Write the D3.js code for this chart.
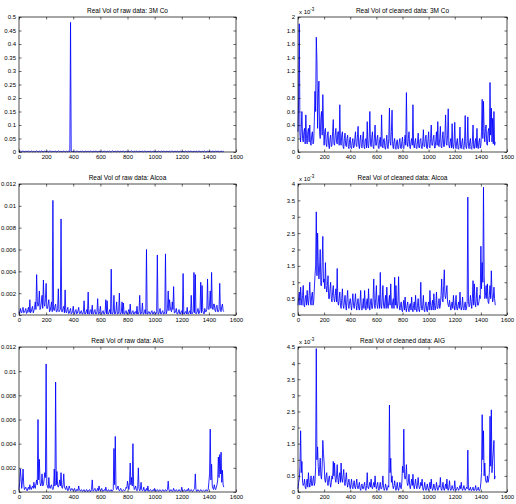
<!DOCTYPE html>
<html>
<head>
<meta charset="utf-8">
<script src="https://cdn.jsdelivr.net/npm/d3@7"></script>
<style>
html,body{margin:0;padding:0;background:#fff;}
svg{display:block;}
text{font-family:"Liberation Sans",Arial,Helvetica,sans-serif;fill:#000;}
</style>
</head>
<body>
<svg id="chart" width="516" height="504"></svg>
<script>
// ---- data: main samples at x = 0,10,...,1510 and in-between samples at x = 5,15,...,1505 ----
const xStep = 10;
const xTicks = [0,200,400,600,800,1000,1200,1400,1600];

const titles = [
  "Real Vol of raw data: 3M Co", "Real Vol of cleaned data: 3M Co",
  "Real Vol of raw data: Alcoa", "Real Vol of cleaned data: Alcoa",
  "Real Vol of raw data: AIG", "Real Vol of cleaned data: AIG"
];

// raw 3M Co (actual units)
const raw3M = [
 0.001,0.004,0.001,0.003,0.001,0.004,0.001,0.003,0.001,0.004,
 0.001,0.003,0.001,0.004,0.002,0.003,0.001,0.004,0.001,0.003,
 0.001,0.003,0.001,0.004,0.001,0.003,0.001,0.003,0.001,0.004,
 0.001,0.003,0.001,0.003,0.001,0.003,0.001,0.002,0.48,0.002,
 0.001,0.003,0.001,0.003,0.001,0.003,0.001,0.003,0.001,0.003,
 0.001,0.003,0.001,0.003,0.001,0.003,0.001,0.003,0.001,0.003,
 0.001,0.003,0.001,0.003,0.001,0.003,0.001,0.003,0.001,0.004,
 0.001,0.003,0.001,0.003,0.001,0.003,0.001,0.003,0.001,0.003,
 0.001,0.003,0.001,0.004,0.001,0.003,0.001,0.003,0.001,0.003,
 0.001,0.003,0.001,0.003,0.001,0.003,0.001,0.003,0.001,0.003,
 0.001,0.003,0.001,0.003,0.001,0.003,0.001,0.003,0.001,0.003,
 0.001,0.003,0.001,0.003,0.001,0.004,0.001,0.003,0.001,0.003,
 0.001,0.003,0.001,0.003,0.001,0.003,0.001,0.003,0.001,0.003,
 0.001,0.003,0.001,0.003,0.001,0.003,0.001,0.003,0.001,0.003,
 0.001,0.004,0.001,0.003,0.001,0.004,0.001,0.003,0.001,0.004,
 0.001,0.003
];
const raw3MMid = [
 0.002,0.001,0.003,0.002,0.001,0.002,0.003,0.001,0.002,0.002,
 0.002,0.001,0.003,0.002,0.001,0.002,0.003,0.001,0.002,0.002,
 0.002,0.001,0.003,0.002,0.001,0.002,0.003,0.001,0.002,0.002,
 0.002,0.001,0.003,0.002,0.001,0.002,0.003,0.002,0.002,0.002,
 0.002,0.001,0.003,0.002,0.001,0.002,0.003,0.001,0.002,0.002,
 0.002,0.001,0.003,0.002,0.001,0.002,0.003,0.001,0.002,0.002,
 0.002,0.001,0.003,0.002,0.001,0.002,0.003,0.001,0.002,0.002,
 0.002,0.001,0.003,0.002,0.001,0.002,0.003,0.001,0.002,0.002,
 0.002,0.001,0.003,0.002,0.001,0.002,0.003,0.001,0.002,0.002,
 0.002,0.001,0.003,0.002,0.001,0.002,0.003,0.001,0.002,0.002,
 0.002,0.001,0.003,0.002,0.001,0.002,0.003,0.001,0.002,0.002,
 0.002,0.001,0.003,0.002,0.001,0.002,0.003,0.001,0.002,0.002,
 0.002,0.001,0.003,0.002,0.001,0.002,0.003,0.001,0.002,0.002,
 0.002,0.001,0.003,0.002,0.001,0.002,0.003,0.001,0.002,0.002,
 0.002,0.001,0.003,0.002,0.001,0.002,0.003,0.001,0.002,0.002,
 0.002
];

// cleaned 3M Co (x 1e-3)
const clean3M = [
 0.3,1.9,0.15,0.6,0.15,0.35,0.55,0.12,0.35,0.4,
 0.1,0.3,0.15,0.9,1.7,0.35,1.05,0.2,0.6,0.85,
 0.1,0.35,0.08,0.3,0.05,0.25,0.1,0.48,0.1,0.35,
 0.12,0.3,0.7,0.1,0.3,0.05,0.28,0.08,0.25,0.05,
 0.22,0.05,0.2,0.08,0.3,0.08,0.38,0.05,0.25,0.06,
 0.3,0.05,0.2,0.45,0.06,0.6,0.08,0.3,0.05,0.4,
 0.1,0.25,0.05,0.22,0.55,0.06,0.2,0.04,0.25,0.05,
 0.65,0.1,0.62,0.05,0.2,0.04,0.18,0.05,0.2,0.05,
 0.22,0.05,0.25,0.88,0.08,0.3,0.05,0.2,0.7,0.06,
 0.2,0.05,0.28,0.06,0.2,0.05,0.33,0.08,0.25,0.05,
 0.3,0.06,0.4,0.1,0.25,0.06,0.3,0.45,0.08,0.38,
 0.06,0.3,0.08,0.55,0.1,0.64,0.06,0.2,0.42,0.05,
 0.44,0.05,0.2,0.04,0.37,0.05,0.2,0.04,0.54,0.05,
 0.52,0.05,0.2,0.04,0.4,0.05,0.2,0.35,0.05,0.2,
 0.1,0.78,0.75,0.15,0.4,0.1,0.35,1.03,0.65,0.5,
 0.6,0.15
];
const clean3MMid = [
 0.8,0.25,0.35,0.2,0.3,0.12,0.2,0.3,0.15,0.12,
 0.25,0.12,0.45,0.6,1.35,0.8,0.3,0.5,0.25,0.4,
 0.3,0.12,0.25,0.1,0.2,0.08,0.3,0.12,0.25,0.15,
 0.3,0.1,0.15,0.25,0.08,0.2,0.1,0.2,0.08,0.18,
 0.06,0.15,0.06,0.2,0.1,0.22,0.1,0.18,0.08,0.2,
 0.08,0.18,0.06,0.1,0.2,0.12,0.22,0.08,0.2,0.1,
 0.2,0.06,0.18,0.08,0.1,0.18,0.06,0.15,0.06,0.2,
 0.15,0.3,0.1,0.15,0.05,0.15,0.05,0.15,0.06,0.15,
 0.06,0.15,0.1,0.15,0.2,0.08,0.15,0.1,0.12,0.15,
 0.06,0.15,0.07,0.18,0.06,0.15,0.08,0.2,0.06,0.18,
 0.08,0.2,0.1,0.2,0.06,0.18,0.1,0.1,0.2,0.08,
 0.2,0.08,0.25,0.12,0.25,0.1,0.15,0.06,0.08,0.15,
 0.08,0.15,0.05,0.15,0.06,0.15,0.05,0.15,0.08,0.15,
 0.08,0.15,0.05,0.15,0.06,0.15,0.06,0.08,0.15,0.06,
 0.3,0.2,0.3,0.35,0.12,0.3,0.15,0.25,0.15,0.12,
 0.1
];

// raw Alcoa (x 1e-3)
const rawAlcoa = [
 0.3,0.6,0.2,0.7,0.25,0.6,0.2,0.7,1.4,0.3,
 0.8,0.4,1.2,3.7,0.8,2.2,0.7,1.8,3.2,0.8,
 2.9,0.6,1.4,0.4,1.2,10.5,0.4,1.0,0.3,2.4,
 0.4,8.8,0.3,0.8,2.3,0.2,0.7,0.15,0.6,0.15,
 0.8,0.1,0.5,0.15,0.7,0.1,0.4,0.1,1.3,0.1,
 0.5,2.1,0.1,0.5,0.9,0.1,0.5,0.1,1.5,0.1,
 0.8,0.1,0.4,0.1,1.4,1.3,0.1,0.5,4.2,0.1,
 1.8,0.1,1.2,0.1,2.0,0.1,1.2,1.1,0.1,0.4,
 0.1,0.5,1.0,0.1,0.4,0.1,0.3,0.8,0.1,1.8,
 0.1,1.1,0.1,0.5,6.0,0.1,0.3,0.1,0.4,0.1,
 0.3,0.1,5.5,0.1,0.6,0.1,0.4,0.1,5.6,0.3,
 2.2,1.4,0.4,1.2,2.6,0.2,0.6,0.1,0.5,0.1,
 0.4,3.8,0.1,0.3,0.7,0.1,0.4,1.8,0.2,3.9,
 3.7,0.2,0.6,0.2,3.0,2.7,0.2,0.6,0.3,3.3,
 0.5,2.2,3.9,0.5,1.0,0.3,0.9,0.3,2.9,0.3,
 1.0,0.3
];
const rawAlcoaMid = [
 0.15,0.3,0.5,0.2,0.4,0.15,0.5,0.25,0.2,0.6,
 0.2,0.7,0.5,1.2,1.0,0.5,1.2,0.6,1.0,1.5,
 0.6,1.0,0.3,0.8,0.3,0.5,0.8,0.3,0.6,0.3,
 0.5,0.3,0.6,0.2,0.3,0.5,0.15,0.4,0.1,0.4,
 0.15,0.4,0.1,0.4,0.15,0.3,0.1,0.3,0.1,0.3,
 0.1,0.1,0.4,0.1,0.1,0.4,0.1,0.3,0.1,0.3,
 0.1,0.3,0.1,0.3,0.1,0.1,0.3,0.1,0.1,0.3,
 0.1,0.4,0.1,0.3,0.1,0.3,0.1,0.1,0.3,0.1,
 0.3,0.1,0.1,0.3,0.1,0.3,0.1,0.1,0.3,0.1,
 0.3,0.1,0.3,0.1,0.1,0.3,0.1,0.3,0.1,0.3,
 0.1,0.3,0.1,0.3,0.1,0.3,0.1,0.3,0.1,0.6,
 0.4,0.8,0.3,0.5,0.2,0.4,0.1,0.3,0.1,0.3,
 0.1,0.1,0.3,0.1,0.1,0.3,0.1,0.1,0.3,0.2,
 0.1,0.3,0.1,0.5,0.2,0.4,0.1,0.3,0.5,0.6,
 1.0,0.6,0.8,1.0,0.4,0.8,0.3,0.5,0.4,0.8,
 0.4
];

// cleaned Alcoa (x 1e-3)
const cleanAlcoa = [
 0.3,0.7,0.85,0.3,0.9,0.25,0.6,0.75,0.3,1.0,
 0.3,0.7,0.4,1.2,3.15,2.5,1.1,2.0,0.9,2.4,
 1.1,1.6,0.7,1.2,0.5,1.0,0.4,0.9,0.4,0.8,
 1.42,0.3,0.7,0.2,0.8,0.2,0.6,0.15,0.75,0.2,
 0.5,0.15,0.65,0.2,0.65,0.15,0.5,0.15,0.75,0.15,
 0.5,0.75,0.15,0.5,0.8,0.15,0.5,0.2,1.1,0.2,
 0.9,0.2,0.6,1.3,0.2,0.9,0.2,0.6,0.85,0.2,
 0.6,0.95,0.2,0.5,1.15,0.9,0.2,1.17,0.15,0.4,
 0.1,0.45,0.55,0.1,0.4,0.1,0.35,0.55,0.1,0.4,
 0.6,0.1,0.5,0.1,1.0,0.15,0.6,0.1,0.4,0.1,
 0.4,0.75,0.15,0.45,0.65,0.15,0.7,0.2,0.5,0.3,
 1.1,0.4,1.38,0.5,0.9,0.3,0.45,0.15,0.4,0.6,
 0.15,0.6,0.15,0.4,0.7,0.15,0.55,0.15,0.4,0.2,
 3.6,0.25,0.6,0.2,1.05,0.95,0.25,0.85,0.3,0.6,
 2.1,1.6,3.9,0.5,0.9,0.95,0.35,0.9,1.35,0.4,
 0.85,0.3
];
const cleanAlcoaMid = [
 0.5,0.3,0.5,0.6,0.3,0.5,0.3,0.4,0.6,0.4,
 0.6,0.3,0.8,1.5,1.2,1.6,1.4,0.9,1.6,1.0,
 0.8,0.9,0.9,0.5,0.8,0.5,0.7,0.5,0.6,0.4,
 0.4,0.5,0.3,0.5,0.3,0.4,0.3,0.5,0.3,0.4,
 0.3,0.4,0.3,0.4,0.3,0.4,0.2,0.4,0.2,0.3,
 0.2,0.3,0.4,0.2,0.3,0.4,0.2,0.5,0.3,0.5,
 0.3,0.4,0.2,0.3,0.5,0.3,0.4,0.2,0.3,0.4,
 0.3,0.3,0.4,0.2,0.3,0.3,0.4,0.3,0.3,0.15,
 0.3,0.15,0.2,0.3,0.15,0.3,0.15,0.2,0.3,0.15,
 0.2,0.3,0.15,0.3,0.2,0.3,0.15,0.3,0.15,0.3,
 0.15,0.3,0.3,0.15,0.3,0.3,0.2,0.35,0.2,0.6,
 0.5,0.9,0.6,0.7,0.4,0.25,0.3,0.3,0.2,0.3,
 0.3,0.2,0.3,0.2,0.3,0.25,0.2,0.3,0.15,0.4,
 0.4,0.3,0.4,0.5,0.3,0.4,0.5,0.3,0.4,0.5,
 0.8,1.0,1.2,0.6,0.5,0.4,0.6,0.5,0.7,0.5,
 0.5
];

// raw AIG (x 1e-3)
const rawAIG = [
 0.2,1.9,0.3,1.9,0.2,0.4,0.1,0.4,0.6,0.2,
 0.5,0.8,0.3,1.0,6.0,2.7,0.5,1.5,0.6,1.6,
 10.6,0.5,1.2,0.3,0.6,0.2,1.9,9.1,1.7,0.4,
 1.0,1.6,0.3,1.5,0.3,0.5,0.1,0.5,0.1,0.3,
 0.1,0.3,0.05,0.2,0.5,0.1,0.2,0.05,0.2,0.05,
 0.2,0.05,0.2,0.05,1.0,0.1,0.3,0.05,0.3,0.5,
 0.1,0.3,0.05,0.2,0.4,0.05,0.2,0.05,0.2,0.1,
 3.6,4.6,0.2,0.5,0.1,0.3,0.05,0.2,0.1,0.4,
 0.9,0.2,2.4,1.2,4.0,0.2,0.5,0.1,2.0,0.1,
 0.8,0.1,0.4,0.05,0.3,0.5,0.05,0.2,0.05,0.2,
 0.3,0.05,0.2,0.05,0.2,0.05,0.2,0.05,0.2,0.1,
 0.9,0.05,0.2,0.05,0.3,0.05,0.2,0.05,0.2,0.05,
 0.4,0.05,0.2,0.05,0.2,0.3,0.05,0.2,0.05,0.2,
 1.5,0.05,0.2,0.05,0.2,0.05,0.15,0.05,0.2,0.1,
 0.8,5.2,2.3,0.3,0.6,0.2,0.6,2.9,3.1,3.3,
 1.8,0.4
];
const rawAIGMid = [
 0.8,1.2,0.9,0.6,0.3,0.2,0.3,0.2,0.3,0.4,
 0.3,0.4,0.7,0.6,1.0,0.8,0.7,0.5,1.0,1.2,
 0.6,0.3,0.4,0.5,0.3,0.4,0.5,0.6,0.5,0.6,
 0.5,0.4,0.6,0.4,0.2,0.3,0.2,0.3,0.2,0.15,
 0.2,0.1,0.2,0.1,0.2,0.1,0.1,0.15,0.05,0.15,
 0.05,0.15,0.05,0.2,0.1,0.2,0.1,0.15,0.1,0.2,
 0.2,0.1,0.15,0.1,0.15,0.1,0.1,0.15,0.05,0.2,
 0.6,0.4,0.3,0.2,0.2,0.1,0.1,0.15,0.2,0.3,
 0.5,0.8,0.6,0.5,0.6,0.3,0.2,0.3,0.3,0.2,
 0.2,0.15,0.1,0.2,0.1,0.1,0.15,0.1,0.1,0.1,
 0.1,0.1,0.1,0.15,0.1,0.1,0.1,0.1,0.1,0.2,
 0.2,0.1,0.1,0.1,0.1,0.1,0.1,0.1,0.1,0.1,
 0.1,0.1,0.1,0.1,0.1,0.1,0.1,0.1,0.1,0.3,
 0.2,0.1,0.1,0.1,0.1,0.1,0.1,0.1,0.1,0.2,
 1.5,1.0,0.5,0.2,0.3,0.4,1.0,1.2,1.5,0.8,
 0.6
];

// cleaned AIG (x 1e-3)
const cleanAIG = [
 0.1,0.4,1.9,0.95,0.2,0.4,0.1,0.4,0.6,0.15,
 0.5,0.2,0.5,0.3,4.45,1.4,0.5,1.05,0.4,1.6,
 0.9,0.3,0.6,0.2,0.5,0.15,0.5,0.95,0.9,0.3,
 0.85,0.25,0.6,0.9,0.3,0.7,0.2,0.6,0.15,0.4,
 0.1,0.4,0.1,0.35,0.1,0.4,0.1,0.3,0.05,0.25,
 0.1,0.3,0.05,0.6,0.1,0.3,0.4,0.1,0.3,0.5,
 0.1,0.3,0.05,0.3,0.1,0.5,0.05,0.25,0.05,0.2,
 2.7,1.05,0.5,0.1,0.35,0.05,0.3,0.05,0.3,0.1,
 0.8,1.95,0.4,0.85,0.2,0.55,0.1,0.4,0.55,0.1,
 0.4,0.1,0.45,0.1,0.3,0.4,0.05,0.3,0.05,0.25,
 0.05,0.3,0.4,0.05,0.25,0.05,0.3,0.05,0.2,0.45,
 0.05,0.3,0.05,0.25,0.4,0.05,0.35,0.05,0.2,0.05,
 0.35,0.05,0.15,0.05,0.2,0.3,0.05,0.2,0.05,0.15,
 1.3,0.05,0.15,0.05,0.15,0.05,0.2,0.05,0.15,0.05,
 0.3,2.4,1.9,0.9,0.3,0.5,0.4,2.35,2.55,1.0,
 1.6,0.5
];
const cleanAIGMid = [
 0.3,0.8,0.6,0.3,0.25,0.15,0.3,0.15,0.3,0.3,
 0.2,0.4,0.2,0.8,1.0,0.8,0.7,0.5,0.8,1.2,
 0.4,0.5,0.3,0.4,0.3,0.3,0.4,0.5,0.4,0.5,
 0.4,0.5,0.3,0.4,0.5,0.3,0.4,0.3,0.3,0.2,
 0.25,0.15,0.25,0.15,0.25,0.15,0.2,0.1,0.2,0.1,
 0.2,0.1,0.2,0.15,0.2,0.15,0.15,0.2,0.15,0.2,
 0.2,0.1,0.2,0.1,0.2,0.15,0.1,0.15,0.1,0.15,
 0.6,0.3,0.2,0.2,0.15,0.15,0.1,0.15,0.15,0.3,
 0.6,0.5,0.5,0.3,0.3,0.2,0.25,0.2,0.2,0.25,
 0.2,0.25,0.2,0.15,0.2,0.1,0.15,0.1,0.15,0.1,
 0.15,0.1,0.15,0.1,0.15,0.1,0.15,0.1,0.15,0.1,
 0.15,0.1,0.15,0.1,0.1,0.15,0.1,0.1,0.1,0.1,
 0.1,0.1,0.1,0.1,0.1,0.1,0.1,0.1,0.1,0.1,
 0.1,0.1,0.05,0.1,0.05,0.1,0.05,0.1,0.05,0.1,
 0.6,1.0,0.5,0.4,0.3,0.3,0.6,0.8,0.6,1.25,
 0.4
];

const yTicksRaw3M = [0,0.05,0.1,0.15,0.2,0.25,0.3,0.35,0.4,0.45,0.5];
const yTicksClean3M = [0,0.2,0.4,0.6,0.8,1,1.2,1.4,1.6,1.8,2];
const yTicksRawAlcoa = [0,0.002,0.004,0.006,0.008,0.01,0.012];
const yTicksCleanAlcoa = [0,0.5,1,1.5,2,2.5,3,3.5,4];
const yTicksRawAIG = [0,0.002,0.004,0.006,0.008,0.01,0.012];
const yTicksCleanAIG = [0,0.5,1,1.5,2,2.5,3,3.5,4,4.5];

// ---- drawing ----
const svg = d3.select("#chart");
const cols = [[19,236],[298,507]];
const rows = [[17,152],[184,315],[347,492]];

const panels = [
  {data: raw3M, mid: raw3MMid, scale: 1, yMax: 0.5, ticks: yTicksRaw3M, exp: false},
  {data: clean3M, mid: clean3MMid, scale: 1, yMax: 2, ticks: yTicksClean3M, exp: true},
  {data: rawAlcoa, mid: rawAlcoaMid, scale: 1e-3, yMax: 0.012, ticks: yTicksRawAlcoa, exp: false},
  {data: cleanAlcoa, mid: cleanAlcoaMid, scale: 1, yMax: 4, ticks: yTicksCleanAlcoa, exp: true},
  {data: rawAIG, mid: rawAIGMid, scale: 1e-3, yMax: 0.012, ticks: yTicksRawAIG, exp: false},
  {data: cleanAIG, mid: cleanAIGMid, scale: 1, yMax: 4.5, ticks: yTicksCleanAIG, exp: true}
];

const fmt = v => String(+v.toFixed(6));

panels.forEach((p, k) => {
  const [l, r] = cols[k % 2];
  const [t, b] = rows[Math.floor(k / 2)];
  const x = d3.scaleLinear().domain([0, 1600]).range([l, r]);
  const y = d3.scaleLinear().domain([0, p.yMax]).range([b, t]);
  const g = svg.append("g");

  // merge main samples and in-between samples in x order
  const pts = d3.merge(p.data.map((v, i) =>
    i < p.mid.length ? [[i * xStep, v], [i * xStep + xStep / 2, p.mid[i]]] : [[i * xStep, v]]));

  const line = d3.line()
    .x(d => x(d[0]))
    .y(d => y(d[1] * p.scale));
  g.append("path")
    .datum(pts)
    .attr("d", line)
    .attr("fill", "none")
    .attr("stroke", "#0000ff")
    .attr("stroke-width", 0.85)
    .attr("stroke-linejoin", "miter");

  const styleAxis = sel => {
    sel.selectAll("path.domain").remove();
    sel.selectAll("line").attr("stroke", "#000").attr("stroke-width", 0.6);
    sel.selectAll("text").attr("font-size", 6).attr("font-family", '"Liberation Sans",Arial,sans-serif');
  };

  g.append("g").attr("transform", `translate(0,${b})`)
    .call(d3.axisBottom(x).tickValues(xTicks).tickSize(-2.5).tickPadding(3).tickFormat(fmt))
    .call(styleAxis);
  g.append("g").attr("transform", `translate(0,${t})`)
    .call(d3.axisTop(x).tickValues(xTicks).tickSize(-2.5).tickFormat(""))
    .call(styleAxis);
  g.append("g").attr("transform", `translate(${l},0)`)
    .call(d3.axisLeft(y).tickValues(p.ticks).tickSize(-2.5).tickPadding(3).tickFormat(fmt))
    .call(styleAxis);
  g.append("g").attr("transform", `translate(${r},0)`)
    .call(d3.axisRight(y).tickValues(p.ticks).tickSize(-2.5).tickFormat(""))
    .call(styleAxis);

  g.append("rect")
    .attr("x", l).attr("y", t).attr("width", r - l).attr("height", b - t)
    .attr("fill", "none").attr("stroke", "#000").attr("stroke-width", 0.7);

  g.append("text")
    .attr("x", (l + r) / 2).attr("y", t - 4)
    .attr("text-anchor", "middle").attr("font-size", 6.5)
    .text(titles[k]);

  if (p.exp) {
    const e = g.append("text").attr("x", l + 1).attr("y", t - 3).attr("font-size", 6);
    e.append("tspan").text("x 10");
    e.append("tspan").attr("dy", -3).attr("font-size", 4.5).text("-3");
  }
});
</script>
</body>
</html>
